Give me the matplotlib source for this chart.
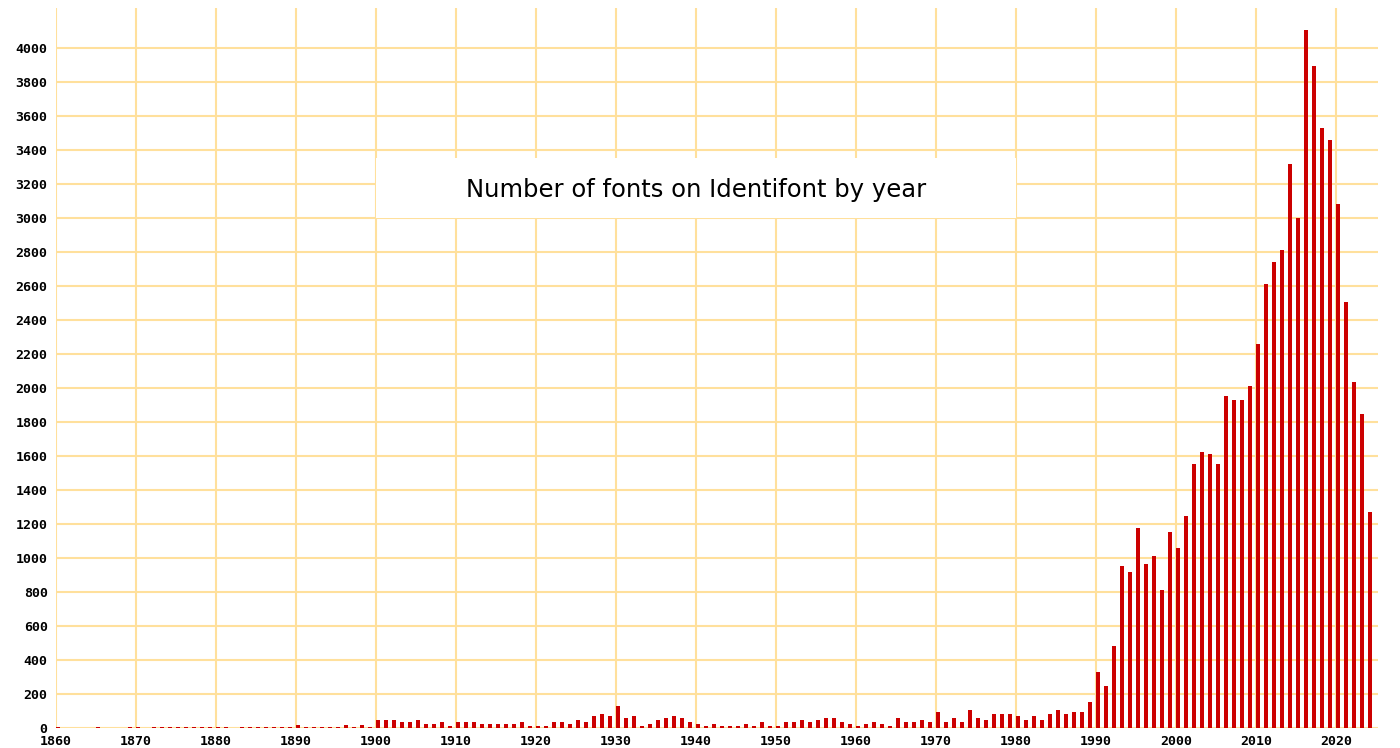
import numpy as np
import matplotlib
matplotlib.use("Agg")
from matplotlib import pyplot as plt
from matplotlib.patches import Rectangle

# fonts added per year, 1860..2024
first_year = 1860
counts_1860s = [6, 0, 0, 0, 0, 6, 0, 0, 0, 6]
counts_1870s = [6, 0, 6, 6, 6, 6, 6, 6, 6, 6]
counts_1880s = [6, 6, 0, 6, 6, 6, 6, 6, 6, 6]
counts_1890s = [18, 6, 6, 6, 6, 6, 18, 6, 18, 6]
counts_1900s = [47, 47, 47, 35, 35, 47, 24, 24, 35, 12]
counts_1910s = [35, 35, 35, 24, 24, 24, 24, 24, 35, 12]
counts_1920s = [12, 12, 35, 35, 24, 47, 35, 70, 82, 70]
counts_1930s = [129, 59, 70, 12, 24, 47, 59, 70, 59, 35]
counts_1940s = [24, 12, 24, 12, 12, 12, 24, 12, 35, 12]
counts_1950s = [12, 35, 35, 47, 35, 47, 59, 59, 35, 24]
counts_1960s = [12, 24, 35, 24, 12, 59, 35, 35, 47, 35]
counts_1970s = [94, 35, 59, 35, 106, 59, 47, 82, 82, 82]
counts_1980s = [70, 47, 70, 47, 82, 106, 82, 94, 94, 153]
counts_1990s = [329, 247, 482, 953, 918, 1176, 965, 1012, 812, 1153]
counts_2000s = [1059, 1247, 1553, 1624, 1612, 1553, 1953, 1929, 1929, 2012]
counts_2010s = [2259, 2612, 2741, 2812, 3318, 3000, 4106, 3894, 3529, 3459]
counts_2020s = [3082, 2506, 2035, 1847, 1271]

counts = (counts_1860s + counts_1870s + counts_1880s + counts_1890s + counts_1900s
          + counts_1910s + counts_1920s + counts_1930s + counts_1940s + counts_1950s
          + counts_1960s + counts_1970s + counts_1980s + counts_1990s + counts_2000s
          + counts_2010s + counts_2020s)
years = np.arange(first_year, first_year + len(counts))

x_ticks = list(range(1860, 2021, 10))
y_ticks = list(range(0, 4001, 200))
title = "Number of fonts on Identifont by year"

grid_col = "#FFE09C"
bar_col = "#CC0000"

fig = plt.figure(figsize=(14, 7.48), dpi=100)
ax = fig.add_axes([56/1400, 20/748, (1378-56)/1400, 720/748])

ax.bar(years, counts, width=0.5, align="edge", color=bar_col, linewidth=0, zorder=3)

ax.set_xlim(1860, 2025.25)
ax.set_ylim(0, 4235)
ax.set_xticks(x_ticks)
ax.set_yticks(y_ticks)
ax.set_axisbelow(True)
ax.grid(True, color=grid_col, linewidth=1.5)
for s in ax.spines.values():
    s.set_visible(False)

tick_font = dict(family="DejaVu Sans Mono", weight="bold", size=9.5)
ax.set_xticklabels([str(t) for t in x_ticks], fontdict=tick_font)
ax.set_yticklabels([str(t) for t in y_ticks], fontdict=tick_font)
ax.tick_params(axis="both", length=0, colors="black")
ax.tick_params(axis="x", pad=5)
ax.tick_params(axis="y", pad=6)

# white label box over the grid
ax.add_patch(Rectangle((1900, 3000), 80, 355, facecolor="white", edgecolor="none", zorder=2))
ax.text(1940, 3165, title, ha="center", va="center", fontsize=17.5,
        family="DejaVu Sans", color="black", zorder=4)

fig.savefig("out.png", dpi=100)
